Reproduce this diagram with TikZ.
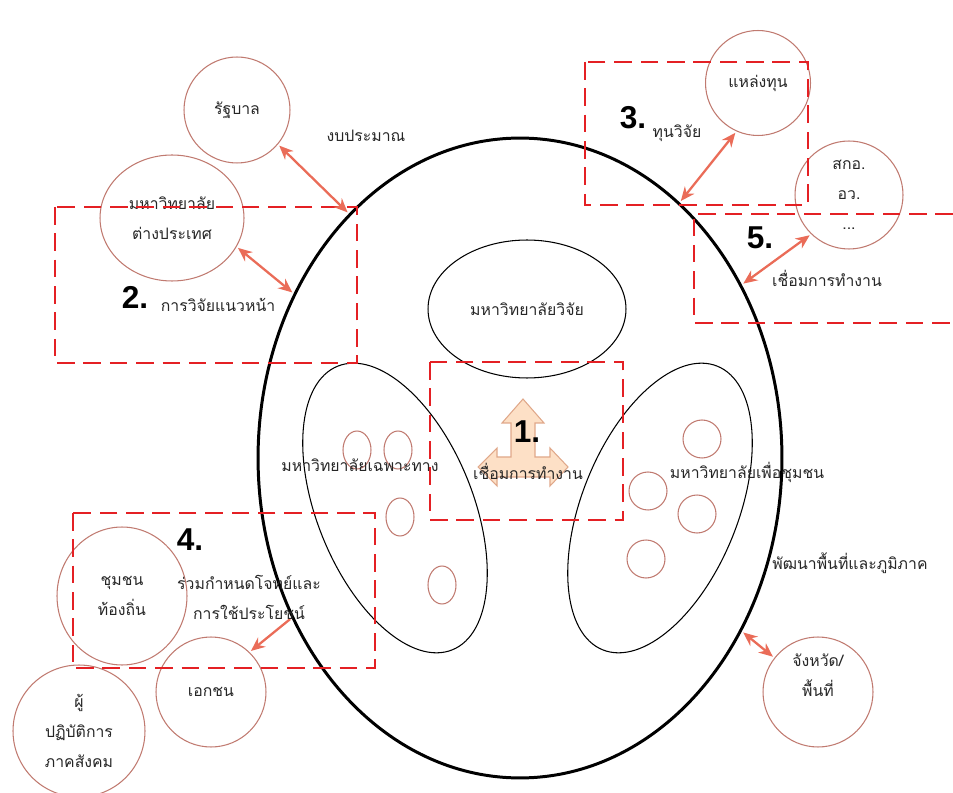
\documentclass[tikz,border=0pt]{standalone}
\usepackage{fontspec}
\usepackage{tikz}
\usetikzlibrary{shapes.geometric, arrows.meta, positioning}
\newfontfamily\thaifont[Script=Thai]{Loma}
\newfontfamily\numfont{Liberation Sans}
\definecolor{zonered}{RGB}{228,32,36}
\definecolor{ringbrown}{RGB}{192,122,112}
\definecolor{linkcolor}{RGB}{234,108,88}
\definecolor{peachfill}{RGB}{253,224,198}
\definecolor{peachline}{RGB}{224,168,138}

\begin{document}
\begin{tikzpicture}[
    x=0.02cm, y=-0.02cm,
    ring/.style={circle, draw=ringbrown, line width=0.6pt, align=center, font=\thaifont\fontsize{9}{17}\selectfont, text=black!85, inner sep=0pt},
    ringoval/.style={ring, ellipse},
    uni/.style={ellipse, draw, line width=0.6pt, font=\thaifont\fontsize{9}{17}\selectfont, text=black!85},
    seed/.style={ellipse, draw=ringbrown, line width=0.6pt, minimum width=0.56cm, minimum height=0.76cm, inner sep=0pt},
    zone/.style={draw=zonered, line width=1.5pt, dash pattern=on 10pt off 5pt},
    link/.style={{Stealth[length=2.8mm, width=2.4mm]}-{Stealth[length=2.8mm, width=2.4mm]}, draw=linkcolor, line width=1.3pt, shorten >=1pt, shorten <=1pt},
    linkone/.style={link, {-Stealth[length=2.8mm, width=2.4mm]}},
    txt/.style={font=\thaifont\fontsize{9}{17}\selectfont, align=center, text=black!85},
    num/.style={font=\numfont\bfseries\fontsize{18}{20}\selectfont}
]

\useasboundingbox (0,0) rectangle (953,793);

% Nodes
\node[uni, line width=1.7pt, minimum width=10.48cm, minimum height=12.8cm] (campus) at (520,458) {};
\node[uni, minimum width=3.96cm, minimum height=2.76cm] (resuni) at (527,309) {มหาวิทยาลัยวิจัย};
\node[uni, minimum width=3.12cm, minimum height=6.12cm, rotate=22] (specuni) at (395,508) {};
\node[uni, minimum width=3.12cm, minimum height=6.12cm, rotate=-22] (communi) at (660,508) {};

\foreach \p [count=\i] in {(357,450),(398,450),(400,517),(442,585)}
    \node[seed] (seedl\i) at \p {};
\foreach \p [count=\i] in {(702,439),(648,491),(697,514),(646,559)}
    \node[seed, minimum width=0.76cm] (seedr\i) at \p {};

\node[ring, minimum size=2.12cm] (gov) at (237,110) {รัฐบาล};
\node[ringoval, minimum width=2.88cm, minimum height=2.52cm] (abroad) at (172,218) {มหาวิทยาลัย\\ต่างประเทศ};
\node[ring, minimum size=2.1cm] (fund) at (758,83) {แหล่งทุน};
\node[ring, minimum size=2.16cm] (agency) at (849,195) {สกอ.\\อว.\\...};
\node[ringoval, minimum width=2.6cm, minimum height=2.76cm] (local) at (122,596) {ชุมชน\\ท้องถิ่น};
\node[ring, minimum size=2.2cm] (private) at (211,692) {เอกชน};
\node[ring, minimum size=2.64cm] (social) at (79,731) {ผู้\\ปฏิบัติการ\\ภาคสังคม};
\node[ring, minimum size=2.2cm] (province) at (818,692) {};

% Centre arrow
\draw[fill=peachfill, draw=peachline, line width=0.6pt]
    (523,399) -- (544,423) -- (535,423) -- (535,457) -- (550,457) -- (550,448)
    -- (568,467) -- (550,486) -- (550,477) -- (497,477) -- (497,486) -- (478,467)
    -- (497,448) -- (497,457) -- (511,457) -- (511,423) -- (502,423) -- cycle;

% Zones
\draw[zone] (55,207) rectangle (357,363);
\draw[zone] (585,62) rectangle (808,205);
\draw[zone] (953,214) -| (694,323) -- (953,323);
\draw[zone] (430,362) rectangle (623,520);
\draw[zone] (73,513) rectangle (375,668);

% Arrows
\draw[link] (gov.-40) -- (campus.125);
\draw[link] (abroad.-24) -- (campus.144);
\draw[link] (campus.58) -- (fund.-114);
\draw[link] (campus.38) -- (agency.-134);
\draw[linkone] (campus.215) -- (private.46);
\draw[link] (campus.-38) -- (province.142);

% Labels
\node[txt] (budget) at (366,136) {งบประมาณ};
\node[txt] (frontier) at (218,305) {การวิจัยแนวหน้า};
\node[txt] (grant) at (677,133) {ทุนวิจัย};
\node[txt] (link5) at (827,278) {เชื่อมการทำงาน};
\node[txt] (specname) at (360,465) {มหาวิทยาลัยเฉพาะทาง};
\node[txt] (commname) at (747,472) {มหาวิทยาลัยเพื่อชุมชน};
\node[txt] (regional) at (850,563) {พัฒนาพื้นที่และภูมิภาค};
\node[txt] (cocreate) at (249,597) {ร่วมกำหนดโจทย์และ\\การใช้ประโยชน์};
\node[txt] (link1) at (528,471) {เชื่อมการทำงาน};
\node[txt] (provtext) at (818,675) {จังหวัด/\\พื้นที่};

\node[num] (n1) at (527,432) {1.};
\node[num] (n2) at (135,297) {2.};
\node[num] (n3) at (633,118) {3.};
\node[num] (n4) at (190,540) {4.};
\node[num] (n5) at (760,238) {5.};

\end{tikzpicture}
\end{document}
